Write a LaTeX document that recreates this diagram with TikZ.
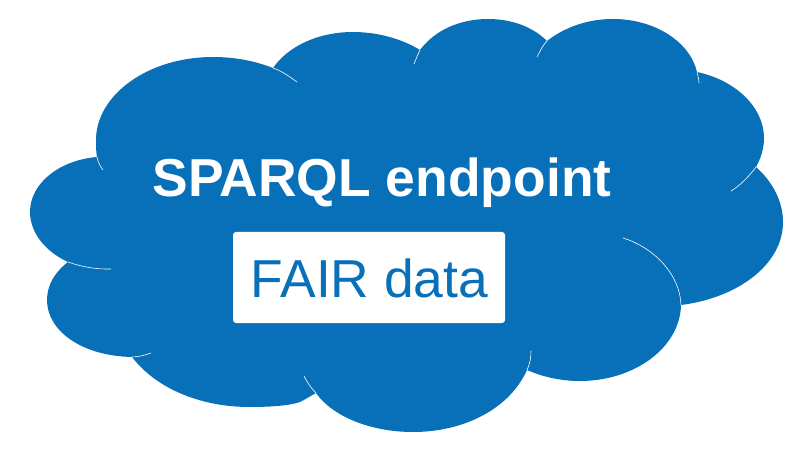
\documentclass[tikz,border=0pt]{standalone}
\usepackage{fontspec}
\setmainfont{Liberation Sans}
\definecolor{cloudblue}{HTML}{0770B9}
\tikzset{
  crease/.style={white,line width=0.6pt,line cap=round},
  title/.style={text=white,font=\fontsize{53.4}{60}\selectfont\bfseries,inner sep=0pt,anchor=base},
  databox/.style={fill=white,rounded corners=3pt,minimum width=272pt,minimum height=91pt,inner sep=0pt},
  datalabel/.style={text=cloudblue,font=\fontsize{53.4}{60}\selectfont,inner sep=0pt,anchor=base}
}
\begin{document}
\begin{tikzpicture}[x=1pt,y=-1pt]
\useasboundingbox (0,0) rectangle (795,449);
\fill[cloudblue] (273,68)
  .. controls (289,45) and (320,32) .. (353,32)
  .. controls (378,32) and (402,39) .. (420,50)
  .. controls (435,30) and (460,19) .. (488,19)
  .. controls (512,19) and (533,27) .. (547,41)
  .. controls (565,27) and (588,19) .. (613,19)
  .. controls (655,19) and (690,42) .. (697,72)
  .. controls (735,80) and (764,107) .. (764,138)
  .. controls (764,148) and (761,158) .. (756,167)
  .. controls (773,182) and (783,202) .. (783,222)
  .. controls (783,265) and (737,298) .. (681,305)
  .. controls (680,348) and (634,381) .. (580,381)
  .. controls (561,381) and (543,377) .. (527,370)
  .. controls (510,408) and (465,432) .. (413,432)
  .. controls (370,432) and (332,416) .. (316,393)
  -- (302,401)
  .. controls (297,404) and (280,407) .. (250,407)
  .. controls (198,407) and (155,387) .. (132,357)
  .. controls (82,356) and (47,331) .. (47,300)
  .. controls (47,285) and (55,272) .. (68,262)
  .. controls (46,252) and (30,233) .. (30,212)
  .. controls (30,183) and (60,160) .. (97,157)
  .. controls (96,152) and (96,146) .. (96,140)
  .. controls (96,95) and (148,57) .. (213,57)
  .. controls (235,57) and (255,61) .. (273,68)
  -- cycle;
\draw[crease] (273,68) .. controls (282,71) and (290,77) .. (297,82);
\draw[crease] (420,50) .. controls (418,54) and (416,59) .. (414,64);
\draw[crease] (547,41) .. controls (543,45) and (540,51) .. (537,57);
\draw[crease] (697,72) .. controls (698,76) and (699,80) .. (699,83);
\draw[crease] (756,167) .. controls (750,175) and (741,185) .. (731,191);
\draw[crease] (623,238) .. controls (655,248) and (680,275) .. (681,305);
\draw[crease] (527,370) .. controls (530,364) and (531,357) .. (531,351);
\draw[crease] (316,393) .. controls (311,388) and (307,382) .. (304,376);
\draw[crease] (132,357) .. controls (139,357) and (145,355) .. (151,353);
\draw[crease] (68,262) .. controls (82,267) and (97,269.5) .. (111,269);
\draw[crease] (97,157) .. controls (98,162) and (100,166) .. (103,170);
\node[title] (heading) at (382,196.5) {SPARQL endpoint};
\node[databox] (box) at (369,277.5) {};
\node[datalabel] (label) at (369.5,297) {FAIR data};
\end{tikzpicture}
\end{document}
